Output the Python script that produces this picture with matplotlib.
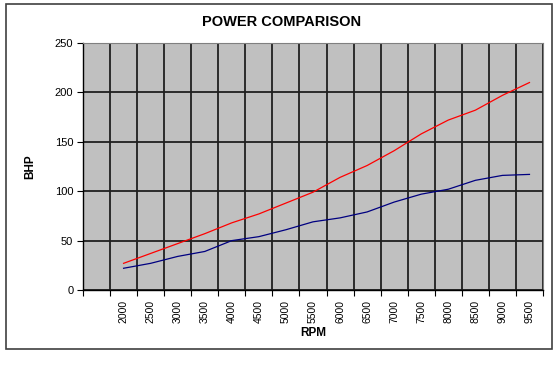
import matplotlib.pyplot as plt
import matplotlib as mpl
from matplotlib.patches import Rectangle

mpl.rcParams["font.family"] = ["Liberation Sans", "DejaVu Sans"]

# RPM categories (first slot is empty in the original chart)
rpm = ['', '2000', '2500', '3000', '3500', '4000', '4500', '5000', '5500',
       '6000', '6500', '7000', '7500', '8000', '8500', '9000', '9500']
# BHP values
red_bhp = [27, 37, 47, 57, 68, 77, 88, 99, 114, 126, 141, 158, 172, 182, 197, 210]
blue_bhp = [22, 27, 34, 39, 50, 54, 61, 69, 73, 79, 89, 97, 102, 111, 116, 117]

fig = plt.figure(figsize=(5.58, 3.66), dpi=100)
# outer chart frame
fig.patches.append(Rectangle((6 / 558, 1 - 349 / 366), 546 / 558, 345 / 366,
                             transform=fig.transFigure, fill=False,
                             edgecolor='#404040', linewidth=1.2))

ax = fig.add_axes([83 / 558, 1 - 290 / 366, 460 / 558, 247 / 366])
ax.set_facecolor('#C0C0C0')

xs = range(1, len(rpm))
ax.plot(xs, red_bhp, color='#FF0000', linewidth=0.9)
ax.plot(xs, blue_bhp, color='#000080', linewidth=0.9)

ax.set_xlim(-0.5, len(rpm) - 0.5)
ax.set_ylim(0, 250)
ax.set_yticks(range(0, 251, 50))
ax.tick_params(axis='y', labelsize=8, length=4, width=0.8, pad=3)

# gridlines on category boundaries, labels at category centres
ax.set_xticks([i - 0.5 for i in range(len(rpm) + 1)])
ax.set_xticklabels([])
ax.set_xticks(range(len(rpm)), minor=True)
ax.set_xticklabels(rpm, minor=True, rotation=90, fontsize=7.5)
ax.tick_params(axis='x', which='major', length=4, width=0.8)
ax.tick_params(axis='x', which='minor', length=0, pad=7)

ax.grid(True, which='major', color='#202020', linewidth=1.3)
ax.set_axisbelow(True)
for s in ['top', 'right']:
    ax.spines[s].set_color('#808080')
for s in ['left', 'bottom']:
    ax.spines[s].set_color('black')
    ax.spines[s].set_linewidth(1.0)

ax.set_xlabel('RPM', fontsize=8.5, fontweight='bold', labelpad=3)
ax.set_ylabel('BHP', fontsize=8.5, fontweight='bold', labelpad=13)
fig.text(0.505, 1 - 22 / 366, 'POWER COMPARISON', ha='center', va='center',
         fontsize=10.5, fontweight='bold')

plt.savefig('out.png', dpi=100)
